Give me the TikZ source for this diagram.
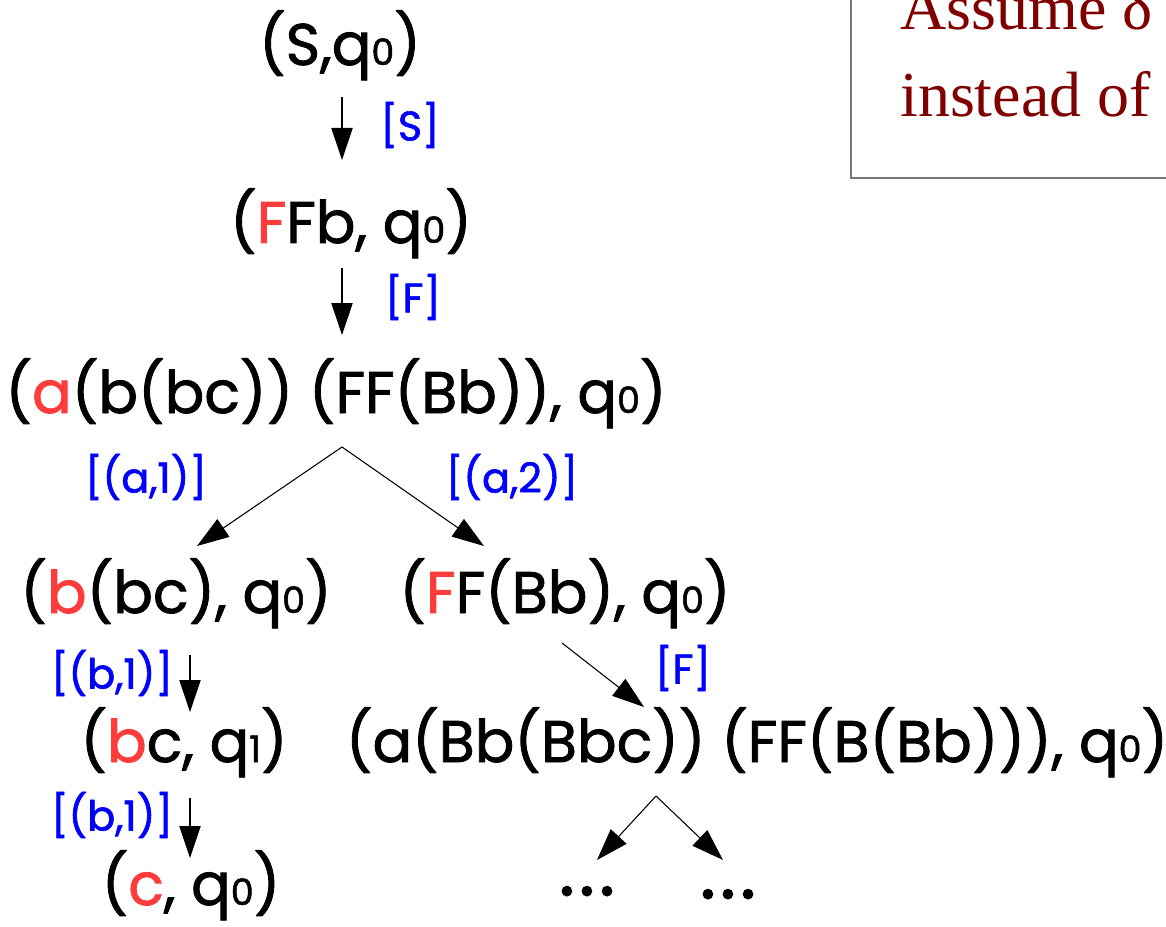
\documentclass[tikz,border=0pt]{standalone}
\usepackage{fontspec}
\setmainfont{Poppins}[FakeBold=1.4]
\newfontfamily\boxserif{Liberation Serif}
\newfontfamily\dotsfont{Poppins}[FakeBold=3,LetterSpace=8]
\usetikzlibrary{arrows.meta}
\definecolor{lblue}{RGB}{0,0,255}
\definecolor{lred}{RGB}{255,60,60}
\definecolor{dred}{RGB}{128,0,0}
\definecolor{bgray}{RGB}{120,120,120}
\newcommand\rd[1]{\textcolor{lred}{#1}}
\newcommand\qsub[1]{q\scalebox{0.62}{#1}}
\tikzset{
  st/.style={font=\fontsize{44}{52}\selectfont, inner sep=0pt, anchor=base},
  lab/.style={font=\fontsize{31}{36}\selectfont, text=lblue, inner sep=0pt},
  arr/.style={-{Triangle[length=24pt,width=16pt]}, line width=0.8pt},
  boxtxt/.style={font=\boxserif\fontsize{48}{56}\selectfont, text=dred, inner sep=0pt, anchor=base west},
  dotst/.style={font=\dotsfont\fontsize{52}{60}\selectfont, inner sep=0pt, anchor=base},
}
\begin{document}
\begin{tikzpicture}[x=0.75pt,y=-0.75pt]
\useasboundingbox (0,0) rectangle (1166,927);
% note box
\draw[bgray, line width=1.5pt] (851,-20) -- (851,178) -- (1190,178);
\node[boxtxt] (b1) at (900,30) {Assume δ};
\node[boxtxt] (b2) at (900,117) {instead of};
% nodes
\node[st] (n1) at (340,65) {(S,\qsub{0})};
\node[st] (n2) at (351,243) {(\rd{F}Fb, \qsub{0})};
\node[st] (n3) at (336,413) {(\rd{a}(b(bc)) (FF(Bb)), \qsub{0})};
\node[st] (n4) at (176,613) {(\rd{b}(bc), \qsub{0})};
\node[st] (n5) at (565,613) {(\rd{F}F(Bb), \qsub{0})};
\node[st] (n6) at (184,762) {(\rd{b}c, \qsub{1})};
\node[st] (n7) at (757,762) {(a(Bb(Bbc)) (FF(B(Bb))), \qsub{0})};
\node[st] (n8) at (191,905) {(\rd{c}, \qsub{0})};
\node[dotst] (d1) at (587,895) {...};
\node[dotst] (d2) at (728,898) {...};
% arrow endpoints
\coordinate (a1s) at (342,97);  \coordinate (a1e) at (342,160);
\coordinate (a2s) at (342,268); \coordinate (a2e) at (342,335);
\coordinate (s1) at (342,447);
\coordinate (a3e) at (197,546); \coordinate (a4e) at (484,546);
\coordinate (a5s) at (190,655); \coordinate (a5e) at (190,712);
\coordinate (a6s) at (562,643); \coordinate (a6e) at (644,707);
\coordinate (a7s) at (190,798); \coordinate (a7e) at (190,858);
\coordinate (s2) at (656,796);
\coordinate (a8e) at (597,860); \coordinate (a9e) at (723,860);
\draw[arr] (a1s) -- (a1e);
\draw[arr] (a2s) -- (a2e);
\draw[arr] (s1) -- (a3e);
\draw[arr] (s1) -- (a4e);
\draw[arr] (a5s) -- (a5e);
\draw[arr] (a6s) -- (a6e);
\draw[arr] (a7s) -- (a7e);
\draw[arr] (s2) -- (a8e);
\draw[arr] (s2) -- (a9e);
% labels
\node[lab] (l1) at (410,125) {[S]};
\node[lab] (l2) at (413,297) {[F]};
\node[lab] (l3) at (146,477) {[(a,1)]};
\node[lab] (l4) at (512,477) {[(a,2)]};
\node[lab] (l5) at (112,673) {[(b,1)]};
\node[lab] (l6) at (683,668) {[F]};
\node[lab] (l7) at (112,815) {[(b,1)]};
\end{tikzpicture}
\end{document}
